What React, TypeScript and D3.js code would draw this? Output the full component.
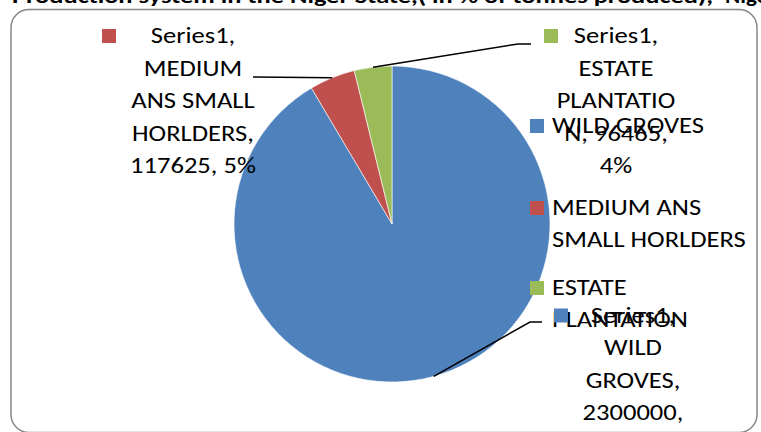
import React from "react";
import * as d3 from "d3";

const categories = ["WILD GROVES", "MEDIUM ANS SMALL HORLDERS", "ESTATE PLANTATION"];
const values = [2300000, 117625, 96465];
const colors = ["#4F81BD", "#C0504D", "#9BBB59"];
const seriesName = "Series1";
const titleMain = "Production system in the Niger State,( in % of tonnes produced),";
const titleTail = "Nigeria";

const legendLines = [["WILD GROVES"], ["MEDIUM ANS", "SMALL HORLDERS"], ["ESTATE", "PLANTATION"]];
const labelLines = [
  ["WILD", "GROVES,", "2300000,", "91%"],
  ["MEDIUM", "ANS SMALL", "HORLDERS,", "117625, 5%"],
  ["ESTATE", "PLANTATIO", "N, 96465,", "4%"],
];

const W = 761;
const H = 432;
const FONT = "Carlito, Calibri, Lato, sans-serif";
const FS = 23;
const SX = 1.155;
const LH = 32.5;

function T({ x, y, anchor = "start", children }: { x: number; y: number; anchor?: string; children: React.ReactNode }) {
  return (
    <text transform={`translate(${x},${y}) scale(${SX},1)`} fontSize={FS} textAnchor={anchor} fill="#000">
      {children}
    </text>
  );
}

export default function App() {
  const cx = 392;
  const cy = 224;
  const r = 158;
  const pie = d3.pie<number>().sort(null).value((d) => d)(values);
  const arc = d3.arc<d3.PieArcDatum<number>>().innerRadius(0).outerRadius(r);
  const edge = d3.arc<d3.PieArcDatum<number>>().innerRadius(r).outerRadius(r);

  const labelPos = [
    { x: 633, y: 322.5, key: -79, elbow: [530, 322], end: [542, 322] },
    { x: 193, y: 43, key: -91, elbow: [253, 77], end: [253, 77] },
    { x: 616, y: 43, key: -72, elbow: [518, 44], end: [531, 44] },
  ];
  const legendY = [133, 215, 295];

  return (
    <svg width={W} height={H} style={{ position: "absolute", left: 0, top: 0 }} fontFamily={FONT}>
      <rect x={0} y={0} width={W} height={H} fill="#fff" />
      <text x={-2} y={3} fontSize={21} fontWeight="bold" textAnchor="end">Fig. 7</text>
      <text x={12} y={3} fontSize={21} fontWeight="bold" textLength={701} lengthAdjust="spacingAndGlyphs">
        {titleMain}
      </text>
      <text transform={`translate(725,3) scale(1.1,1)`} fontSize={21} fontWeight="bold">{titleTail}</text>
      <rect x={11} y={9.5} width={746} height={423} rx={18} fill="#fff" stroke="#868686" strokeWidth={1.5} />
      <g transform={`translate(${cx},${cy})`}>
        {pie.map((p, i) => (
          <path key={i} d={arc(p) || ""} fill={colors[i]} stroke="#fff" strokeWidth={0.6} />
        ))}
      </g>
      {pie.map((p, i) => {
        const [ex, ey] = edge.centroid(p);
        const lp = labelPos[i];
        return (
          <polyline
            key={i}
            points={`${cx + ex},${cy + ey} ${lp.elbow[0]},${lp.elbow[1]} ${lp.end[0]},${lp.end[1]}`}
            fill="none"
            stroke="#000"
            strokeWidth={1.5}
          />
        );
      })}
      {legendLines.map((lines, i) => (
        <g key={i}>
          <rect x={530} y={legendY[i] - 14} width={14} height={14} fill={colors[i]} />
          {lines.map((t, j) => (
            <T key={j} x={552} y={legendY[i] + j * 32}>
              {t}
            </T>
          ))}
        </g>
      ))}
      {labelLines.map((lines, i) => {
        const lp = labelPos[i];
        return (
          <g key={i}>
            <rect x={lp.x + lp.key} y={lp.y - 14} width={14} height={14} fill={colors[i]} />
            <T x={lp.x} y={lp.y} anchor="middle">
              {seriesName + ","}
            </T>
            {lines.map((t, j) => (
              <T key={j} x={lp.x} y={lp.y + (j + 1) * LH} anchor="middle">
                {t}
              </T>
            ))}
          </g>
        );
      })}
    </svg>
  );
}
